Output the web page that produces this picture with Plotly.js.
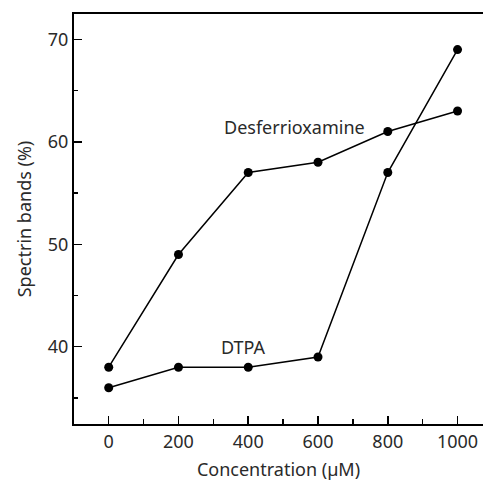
<!DOCTYPE html>
<html>
<head>
<meta charset="utf-8">
<script src="https://cdn.plot.ly/plotly-3.0.1.min.js"></script>
<style>html,body{margin:0;padding:0;background:#fff;}#chart{width:483px;height:481px;}</style>
</head>
<body>
<div id="chart"></div>
<script>
const concentration = [0, 200, 400, 600, 800, 1000];
const desferrioxamine = [38, 49, 57, 58, 61, 63];
const dtpa = [36, 38, 38, 39, 57, 69];
const xTicks = [0, 200, 400, 600, 800, 1000];
const yTicks = [40, 50, 60, 70];

const font = {family: 'Noto Sans, DejaVu Sans, sans-serif', size: 18, color: '#2a2a2a'};
const lineStyle = {color: '#000', width: 1.5};
const markerStyle = {color: '#000', size: 9, symbol: 'circle'};

const traces = [
  {x: concentration, y: desferrioxamine, mode: 'lines+markers', line: lineStyle, marker: markerStyle, name: 'Desferrioxamine', showlegend: false},
  {x: concentration, y: dtpa, mode: 'lines+markers', line: lineStyle, marker: markerStyle, name: 'DTPA', showlegend: false}
];

const layout = {
  width: 483, height: 481,
  margin: {l: 74, r: 0, t: 14, b: 57},
  paper_bgcolor: '#fff', plot_bgcolor: '#fff',
  font: font,
  xaxis: {
    range: [-99.5, 1073],
    tickvals: xTicks, ticktext: xTicks.map(String),
    ticks: 'inside', ticklen: 8, tickwidth: 1.5, tickcolor: '#000',
    minor: {ticks: 'inside', ticklen: 5, tickwidth: 1.5, tickcolor: '#000', dtick: 100, tick0: 0, showgrid: false},
    showline: true, linecolor: '#000', linewidth: 2, mirror: true,
    showgrid: false, zeroline: false,
    title: {text: 'Concentration (µM)', font: font, standoff: 12}
  },
  yaxis: {
    range: [32.46, 72.47],
    tickvals: yTicks, ticktext: yTicks.map(String),
    ticks: 'inside', ticklen: 8, tickwidth: 1.5, tickcolor: '#000',
    minor: {ticks: 'inside', ticklen: 4, tickwidth: 1.5, tickcolor: '#000', dtick: 5, tick0: 0, showgrid: false},
    showline: true, linecolor: '#000', linewidth: 2,
    showgrid: false, zeroline: false,
    title: {text: 'Spectrin bands (%)', font: font, standoff: 12}
  },
  annotations: [
    {x: 533, y: 61.4, xref: 'x', yref: 'y', text: 'Desferrioxamine', showarrow: false, font: font},
    {x: 387, y: 40.0, xref: 'x', yref: 'y', text: 'DTPA', showarrow: false, font: font}
  ]
};

Plotly.newPlot('chart', traces, layout, {staticPlot: true, displayModeBar: false});
</script>
</body>
</html>
